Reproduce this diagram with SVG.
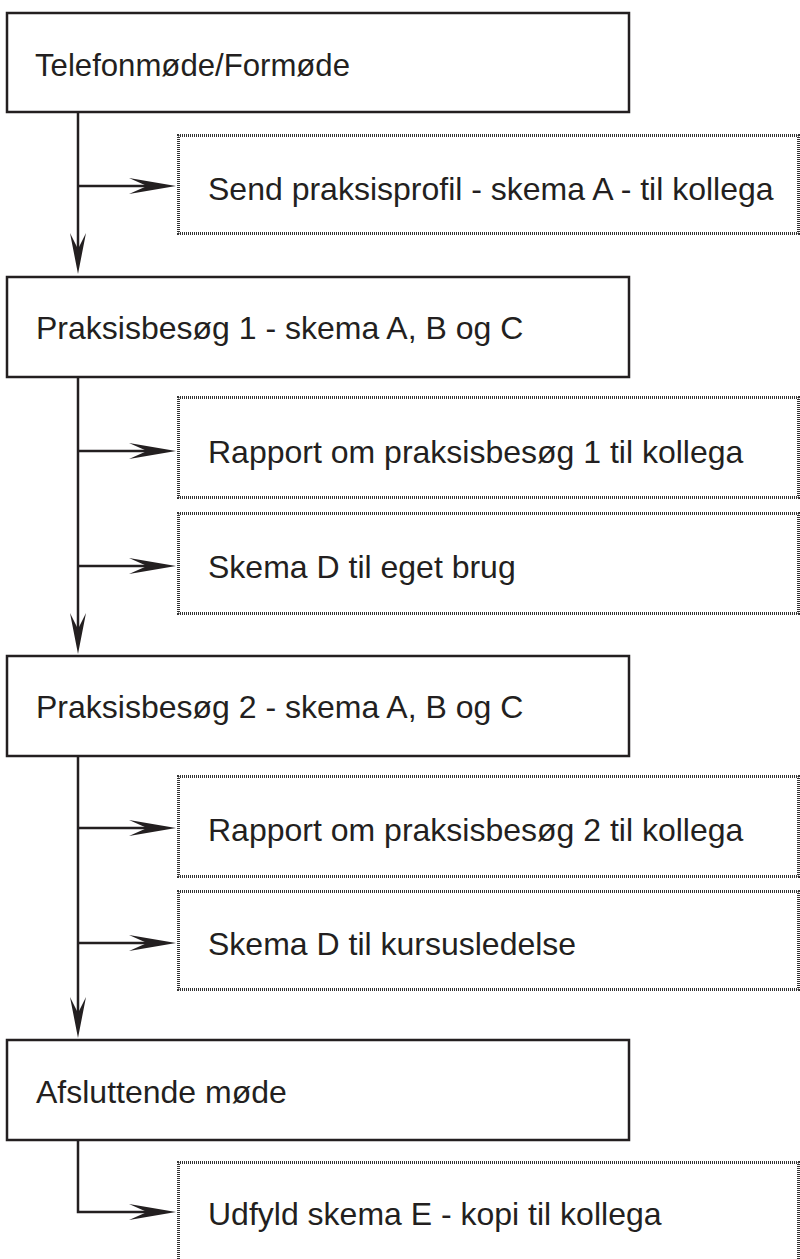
<svg xmlns="http://www.w3.org/2000/svg" width="800" height="1259" viewBox="0 0 800 1259">
<style>
.box{fill:#fff;stroke:#231f20;stroke-width:2.5}
.dbox{fill:#fff;stroke:#333;stroke-width:3;stroke-dasharray:1 1;stroke-dashoffset:0.5}
.t{font-family:"Liberation Sans",Arial,sans-serif;font-size:32px;fill:#231f20}
.ln{fill:none;stroke:#231f20;stroke-width:2.5}
.ah{fill:#231f20}
</style>
<defs>
<path id="ahr" d="M0,0 L-47,-8 L-29,0 L-47,8 Z"/>
<path id="ahd" d="M0,0 L-8,-41 L0,-25 L8,-41 Z"/>
</defs>
<g id="connectors">
<path class="ln" d="M78,112 V250"/>
<path class="ln" d="M78,377 V630"/>
<path class="ln" d="M78,756 V1015"/>
<path class="ln" d="M78,1140 V1212 H150"/>
<path class="ln" d="M78,186 H150"/>
<path class="ln" d="M78,451 H150"/>
<path class="ln" d="M78,566 H150"/>
<path class="ln" d="M78,828 H150"/>
<path class="ln" d="M78,943 H150"/>
<use href="#ahd" class="ah" x="78" y="274"/>
<use href="#ahd" class="ah" x="78" y="654"/>
<use href="#ahd" class="ah" x="78" y="1038"/>
<use href="#ahr" class="ah" x="176" y="186"/>
<use href="#ahr" class="ah" x="176" y="451"/>
<use href="#ahr" class="ah" x="176" y="566"/>
<use href="#ahr" class="ah" x="176" y="828"/>
<use href="#ahr" class="ah" x="176" y="943"/>
<use href="#ahr" class="ah" x="176" y="1212"/>
</g>
<g id="n1"><rect class="box" x="7" y="13" width="622" height="99"/><text class="t" x="35" y="76" textLength="315" lengthAdjust="spacingAndGlyphs">Telefonmøde/Formøde</text></g>
<g id="n2"><rect class="dbox" x="178.5" y="135.5" width="620" height="98"/><text class="t" x="208" y="200">Send praksisprofil - skema A - til kollega</text></g>
<g id="n3"><rect class="box" x="7" y="277" width="622" height="100"/><text class="t" x="36" y="339">Praksisbesøg 1 - skema A, B og C</text></g>
<g id="n4"><rect class="dbox" x="178.5" y="397.5" width="620" height="100"/><text class="t" x="208" y="463">Rapport om praksisbesøg 1 til kollega</text></g>
<g id="n5"><rect class="dbox" x="178.5" y="513.5" width="620" height="100"/><text class="t" x="208" y="578">Skema D til eget brug</text></g>
<g id="n6"><rect class="box" x="7" y="656" width="622" height="100"/><text class="t" x="36" y="718">Praksisbesøg 2 - skema A, B og C</text></g>
<g id="n7"><rect class="dbox" x="178.5" y="776.5" width="620" height="100"/><text class="t" x="208" y="841">Rapport om praksisbesøg 2 til kollega</text></g>
<g id="n8"><rect class="dbox" x="178.5" y="891.5" width="620" height="98"/><text class="t" x="208" y="955">Skema D til kursusledelse</text></g>
<g id="n9"><rect class="box" x="7" y="1040" width="622" height="100"/><text class="t" x="36" y="1103">Afsluttende møde</text></g>
<g id="n10"><rect class="dbox" x="178.5" y="1162.5" width="620" height="100"/><text class="t" x="208" y="1225">Udfyld skema E - kopi til kollega</text></g>
</svg>
